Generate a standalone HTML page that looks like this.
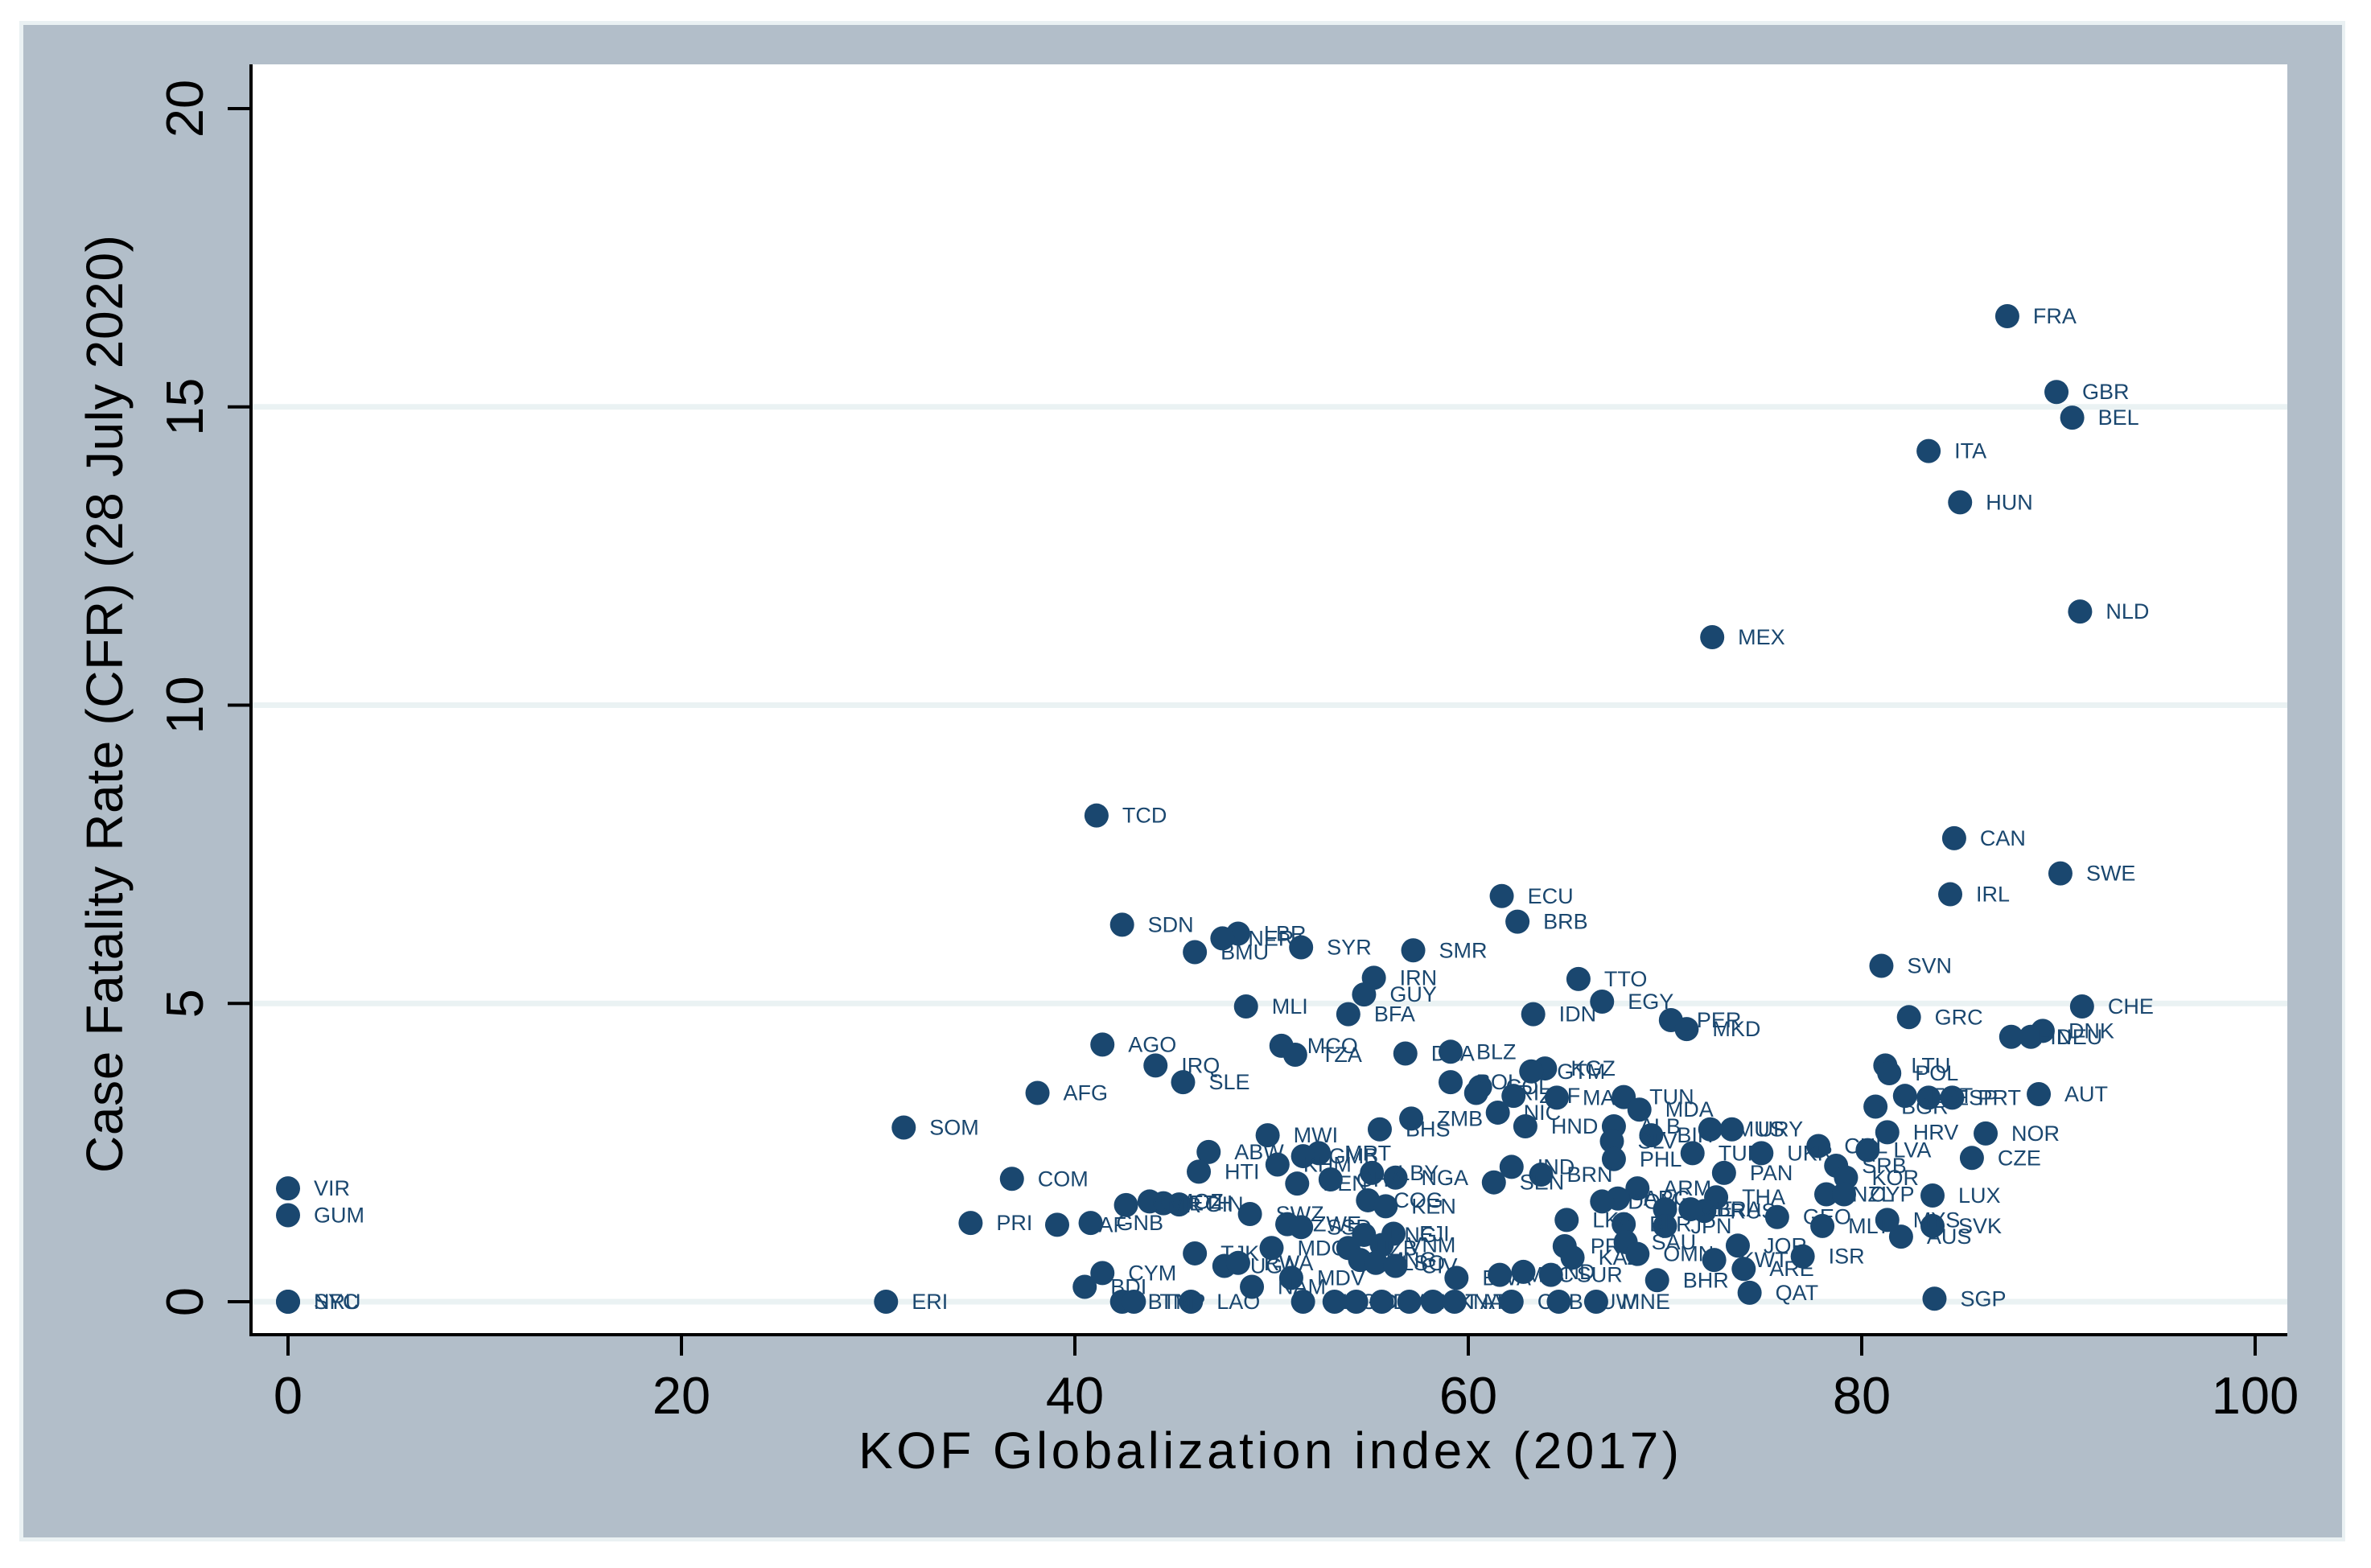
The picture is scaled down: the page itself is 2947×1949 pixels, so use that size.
<!DOCTYPE html>
<html><head><meta charset="utf-8"><style>
html,body{margin:0;padding:0;background:#fff;}
svg{display:block;font-family:"Liberation Sans",Arial,sans-serif;}
</style></head><body>
<svg id="chart" width="2947" height="1949" viewBox="0 0 2947 1949" xmlns="http://www.w3.org/2000/svg">
<rect x="24" y="26" width="2891" height="1890" fill="#eaf1f3"/>
<rect x="29" y="31" width="2882" height="1880" fill="#b2bec9"/>
<rect x="312" y="80" width="2531" height="1579" fill="#ffffff"/>
<g id="grid"></g>
<g id="points"></g>
<line x1="312" y1="80" x2="312" y2="1661" stroke="#000" stroke-width="4"/>
<line x1="310" y1="1659" x2="2843" y2="1659" stroke="#000" stroke-width="4"/>
<g id="axes"></g>
<text x="1577" y="1825" font-size="64" text-anchor="middle" textLength="1020" fill="#000">KOF Globalization index (2017)</text>
<text transform="translate(152,875) rotate(-90)" font-size="64" text-anchor="middle" textLength="1166" fill="#000">Case Fatality Rate (CFR) (28 July 2020)</text>
</svg>
<script>
const countries=["FRA","GBR","BEL","ITA","HUN","NLD","MEX","TCD","CAN","SWE","IRL","ECU","BRB","SDN","LBR","NER","BMU","SYR","SMR","SVN","IRN","TTO","GUY","EGY","MLI","CHE","BFA","IDN","GRC","PER","MKD","DNK","DEU","FIN","AGO","MCO","TZA","DZA","BLZ","LTU","POL","KGZ","GTM","IRQ","SLE","BOL","COL","CRI","AFG","ZAF","MAR","TUN","AUT","ESP","PRT","EST","MDA","BGR","ZMB","NIC","SOM","HND","BHS","ALB","HRV","NOR","MWI","BIH","MUS","URY","SLV","CHL","LVA","TUR","UKR","ABW","MRT","GMB","PHL","CZE","HTI","KHM","LBY","NGA","SRB","KOR","IND","BRN","COM","PAN","SEN","BEN","GHA","VIR","ARM","NZL","CYP","LUX","THA","ARG","DOM","COG","KEN","ETH","MOZ","GIN","CMR","PRI","GUM","RUS","AZE","BRA","SWZ","AUS","SVK","MYS","GEO","MLT","CAF","GNB","ZWE","SSD","JPN","BLR","LKA","FJI","PNG","TJK","UGA","RWA","MDG","VNM","UZB","MNG","LSO","CIV","PRY","KAZ","SAU","OMN","JOR","KWT","BHR","ISR","ARE","QAT","SGP","ERI","CYM","BDI","LAO","BTN","TMP","MDV","NAM","BWA","MAC","AND","SUR","SYC","NRU","TLS","GRD","DMA","LCA","VCT","KNA","ATG","CUB","CUW","MNE"];
const kof=[87.4,89.9,90.7,83.4,85.0,91.1,72.4,41.1,84.7,90.1,84.5,61.7,62.5,42.4,48.3,47.5,46.1,51.5,57.2,81.0,55.2,65.6,54.7,66.8,48.7,91.2,53.9,63.3,82.4,70.3,71.1,89.2,88.6,87.6,41.4,50.5,51.2,56.8,59.1,81.2,81.4,63.9,63.2,44.1,45.5,59.1,60.6,60.4,38.1,62.3,64.5,67.9,89.0,83.4,84.6,82.2,68.7,80.7,57.1,61.5,31.3,62.9,55.5,67.4,81.3,86.3,49.8,69.3,72.3,73.4,67.3,77.8,80.3,71.4,74.9,46.8,52.4,51.6,67.4,85.6,46.3,50.3,55.1,56.3,78.7,79.2,62.2,63.7,36.8,73.0,61.3,51.3,53.0,0,68.6,78.2,79.1,83.6,72.6,67.6,66.8,54.9,55.8,44.5,43.8,45.3,42.6,34.7,0,72.0,70.0,71.3,48.9,82.0,83.6,81.3,75.7,78.0,39.1,40.8,50.8,51.5,70.0,67.9,65.0,56.2,54.7,46.1,47.6,48.3,50.0,55.6,53.9,54.5,55.3,56.3,64.9,65.3,68.0,68.6,73.7,72.5,69.6,77.0,74.0,74.3,83.7,30.4,41.4,40.5,45.9,42.4,43.0,51.0,49.0,59.4,61.6,62.8,64.2,0,0,51.6,53.2,54.3,55.6,57.0,58.2,59.3,62.2,64.6,66.5];
const cfr=[16.52,15.25,14.82,14.26,13.40,11.57,11.14,8.15,7.77,7.18,6.83,6.80,6.37,6.32,6.17,6.09,5.86,5.94,5.89,5.63,5.43,5.41,5.15,5.03,4.95,4.95,4.82,4.82,4.77,4.72,4.57,4.54,4.44,4.44,4.31,4.29,4.14,4.16,4.19,3.96,3.83,3.91,3.86,3.96,3.68,3.68,3.60,3.50,3.50,3.45,3.42,3.43,3.48,3.42,3.42,3.45,3.22,3.27,3.07,3.17,2.92,2.94,2.89,2.94,2.84,2.82,2.79,2.79,2.89,2.89,2.69,2.61,2.54,2.49,2.49,2.51,2.49,2.44,2.39,2.41,2.18,2.30,2.16,2.08,2.28,2.08,2.26,2.13,2.06,2.16,2.00,1.98,2.05,1.90,1.90,1.80,1.80,1.78,1.75,1.73,1.68,1.70,1.60,1.65,1.68,1.63,1.62,1.32,1.45,1.52,1.55,1.55,1.47,1.09,1.27,1.37,1.42,1.27,1.29,1.32,1.30,1.25,1.27,1.30,1.37,1.14,1.12,0.81,0.60,0.65,0.90,0.95,0.90,0.70,0.65,0.60,0.93,0.74,1.00,0.80,0.94,0.70,0.36,0.76,0.55,0.15,0.05,0,0.48,0.25,0,0,0,0.40,0.25,0.40,0.45,0.50,0.45,0,0,0,0,0,0,0,0,0,0,0,0];
const xTicks=[0,20,40,60,80,100];
const yTicks=[0,5,10,15,20];
const yGrid=[0,5,10,15];

const NS="http://www.w3.org/2000/svg";
function X(v){return 358+v*24.45;}
function Y(v){return 1618-v*74.15;}
function mk(tag,attrs,parent){const e=document.createElementNS(NS,tag);for(const k in attrs)e.setAttribute(k,attrs[k]);parent.appendChild(e);return e;}
const grid=document.getElementById('grid'),pts=document.getElementById('points'),axes=document.getElementById('axes');
yGrid.forEach(v=>{
  const l=mk('line',{x1:314,x2:2843,y1:Y(v),y2:Y(v),stroke:'#eaf2f3','stroke-width':7},grid);
  
  
});
xTicks.forEach(v=>{
  const t=mk('line',{x1:X(v),x2:X(v),y1:1661,y2:1685,stroke:'#000','stroke-width':4},axes);
  
  
  const s=mk('text',{x:X(v),y:1757,'font-size':65,'text-anchor':'middle',fill:'#000'},axes);
  s.textContent=v;
  
  
});
yTicks.forEach(v=>{
  const t=mk('line',{x1:283,x2:312,y1:Y(v),y2:Y(v),stroke:'#000','stroke-width':4},axes);
  
  
  const s=mk('text',{transform:'translate(252,'+Y(v)+') rotate(-90)','font-size':65,'text-anchor':'middle',fill:'#000'},axes);
  s.textContent=v;
  
  
});
countries.forEach((c,i)=>{
  const cx=X(kof[i]),cy=Y(cfr[i]);
  const d=mk('circle',{cx:cx,cy:cy,r:15,fill:'#1a476f'},pts);
  
  
  const t=mk('text',{x:cx+32,y:cy+9,'font-size':27,fill:'#1a476f'},pts);
  t.textContent=c;
  
  
});
</script>
</body></html>
